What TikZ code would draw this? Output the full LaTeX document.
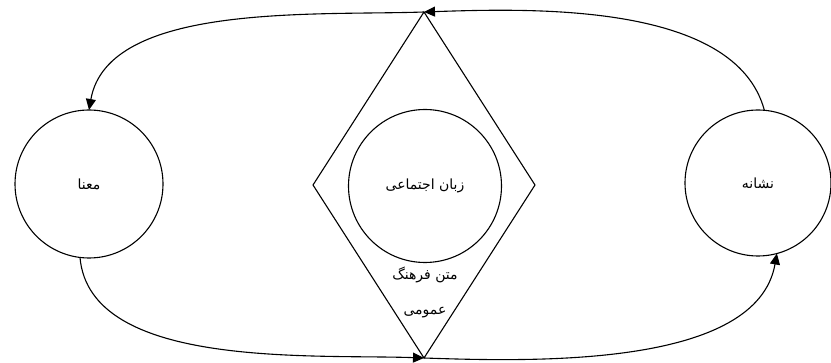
\documentclass[tikz,border=0pt]{standalone}
\usepackage{fontspec}
\newfontfamily\farsi[Script=Arabic]{DejaVu Sans}
\TeXXeTstate=1
\usetikzlibrary{arrows.meta,shapes.geometric}

\begin{document}
\begin{tikzpicture}[x=1pt,y=-1pt,
  bubble/.style={draw,circle,line width=1.1pt,inner sep=0,outer sep=0,minimum size=#1,font=\farsi\fontsize{14}{16}\selectfont},
  label/.style={font=\farsi\fontsize{14}{16}\selectfont},
  flow/.style={-{Triangle[length=11pt,width=10pt]},line width=1.1pt}]
\useasboundingbox (0,0) rectangle (831,363);
\node[draw,diamond,line width=1.1pt,inner sep=0,outer sep=0,minimum width=222,minimum height=346] (dia) at (424,185) {};
\node[bubble=148] (mana) at (89,184) {\beginR معنا\endR};
\node[bubble=146] (neshane) at (758,183) {\beginR نشانه\endR};
\node[bubble=153] (zaban) at (425,186) {\beginR زبان اجتماعی\endR};
\node[label] (matn) at (425,275) {\beginR متن فرهنگ\endR};
\node[label] (omumi) at (425,313) {\beginR عمومی\endR};
% top loop
\draw[flow] (neshane.85) to[out=105,in=2,looseness=.8] (dia.north);
\draw[flow] (dia.north) to[out=182,in=80,looseness=.8] (mana.north);
% bottom loop
\draw[flow] (mana.-97) to[out=-85,in=178,looseness=.8] (dia.south);
\draw[flow] (dia.south) to[out=-2,in=-100,looseness=.8] (neshane.-75);
\end{tikzpicture}
\end{document}
